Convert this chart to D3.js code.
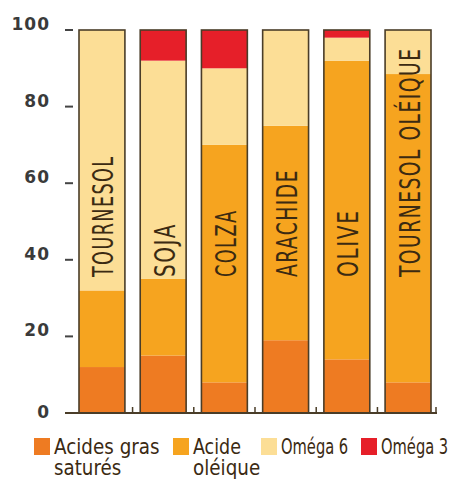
<!DOCTYPE html>
<html lang="fr">
  <head>
    <meta charset="utf-8" />
    <style>
      body {
        margin: 0;
        background: #fff;
      }
      svg {
        display: block;
      }
      .lab {
        font-family: "DejaVu Sans Condensed", "Liberation Sans Narrow", sans-serif;
        fill: #3b2a12;
      }
      .ytick {
        font-family: "DejaVu Sans", sans-serif;
        font-weight: bold;
        font-size: 17px;
        letter-spacing: 1px;
        fill: #3a3a3a;
      }
    </style>
  </head>
  <body>
    <svg id="chart" width="456" height="481"></svg>
    <script src="https://d3js.org/d3.v7.min.js"></script>
    <script>
      // huiles et composition en acides gras (%)
      const oils = ["TOURNESOL", "SOJA", "COLZA", "ARACHIDE", "OLIVE", "TOURNESOL OLÉIQUE"];
      const satures = [12, 15, 8, 19, 14, 8];
      const oleique = [20, 20, 62, 56, 78, 80.5];
      const omega6 = [68, 57, 20, 25, 6, 11.5];
      const omega3 = [0, 8, 10, 0, 2, 0];

      const yTicks = [0, 20, 40, 60, 80, 100];

      const seriesKeys = ["satures", "oleique", "omega6", "omega3"];
      const seriesColors = ["#ee7b22", "#f6a41f", "#fcde96", "#e61f29"];
      const legendLines = [
        ["Acides gras", "saturés"],
        ["Acide", "oléique"],
        ["Oméga 6"],
        ["Oméga 3"]
      ];

      const rows = oils.map((name, i) => ({
        name: name,
        satures: satures[i],
        oleique: oleique[i],
        omega6: omega6[i],
        omega3: omega3[i]
      }));

      const svg = d3.select("#chart");

      const x = d3
        .scaleBand()
        .domain(oils)
        .range([79, 431])
        .paddingInner(0.25)
        .paddingOuter(0);

      const y = d3.scaleLinear().domain([0, 100]).range([413, 30]);

      const stacked = d3.stack().keys(seriesKeys)(rows);

      // segments
      svg
        .append("g")
        .selectAll("g")
        .data(stacked)
        .join("g")
        .attr("fill", (d, i) => seriesColors[i])
        .selectAll("rect")
        .data(d => d)
        .join("rect")
        .attr("x", d => x(d.data.name))
        .attr("width", x.bandwidth())
        .attr("y", d => y(d[1]))
        .attr("height", d => y(d[0]) - y(d[1]));

      // contour des barres
      svg
        .append("g")
        .selectAll("rect")
        .data(oils)
        .join("rect")
        .attr("x", d => x(d))
        .attr("width", x.bandwidth())
        .attr("y", y(100))
        .attr("height", y(0) - y(100))
        .attr("fill", "none")
        .attr("stroke", "#4a3d28")
        .attr("stroke-width", 1.6);

      // noms des huiles, verticaux
      const charStep = 13.5;
      svg
        .append("g")
        .selectAll("text")
        .data(oils)
        .join("text")
        .attr("class", "lab")
        .attr("transform", d => {
          const cx = x(d) + x.bandwidth() / 2 + 1.5;
          return `translate(${cx + 10},${y(35.5)}) rotate(-90)`;
        })
        .attr("font-size", 28)
        .attr("letter-spacing", 2)
        .attr("textLength", d => d.length * charStep)
        .attr("lengthAdjust", "spacingAndGlyphs")
        .text(d => d);

      // axe y : tirets + valeurs
      const yAxis = svg.append("g");
      yAxis
        .selectAll("line")
        .data(yTicks.filter(t => t > 0))
        .join("line")
        .attr("x1", 65)
        .attr("x2", 73)
        .attr("y1", d => y(d))
        .attr("y2", d => y(d))
        .attr("stroke", "#444")
        .attr("stroke-width", 2);
      yAxis
        .selectAll("text")
        .data(yTicks)
        .join("text")
        .attr("class", "ytick")
        .attr("x", 50)
        .attr("y", d => y(d) - (d === 0 ? -5 : 0))
        .attr("text-anchor", "end")
        .text(d => d);

      // ligne de base avec petits repères entre les barres
      const base = svg.append("g").attr("stroke", "#4a3d28");
      base
        .append("line")
        .attr("x1", 65)
        .attr("x2", 437)
        .attr("y1", y(0))
        .attr("y2", y(0))
        .attr("stroke-width", 2);
      const gapX = oils.map((d, i) =>
        i < oils.length - 1
          ? (x(d) + x.bandwidth() + x(oils[i + 1])) / 2
          : 436
      );
      base
        .selectAll(".gap")
        .data(gapX)
        .join("line")
        .attr("class", "gap")
        .attr("x1", d => d)
        .attr("x2", d => d)
        .attr("y1", y(0))
        .attr("y2", y(0) - 6)
        .attr("stroke-width", 1.5);

      // légende
      const legendX = [34, 173, 261, 361];
      const legend = svg
        .append("g")
        .selectAll("g")
        .data(seriesKeys)
        .join("g")
        .attr("transform", (d, i) => `translate(${legendX[i]},438)`);
      legend
        .append("rect")
        .attr("width", 16)
        .attr("height", 17)
        .attr("fill", (d, i) => seriesColors[i]);
      legend
        .append("text")
        .attr("class", "lab")
        .attr("font-size", 21)
        .selectAll("tspan")
        .data((d, i) => legendLines[i])
        .join("tspan")
        .attr("x", 20)
        .attr("y", (d, j) => 16 + j * 21)
        .attr("textLength", d => d.length * 9.6)
        .attr("lengthAdjust", "spacingAndGlyphs")
        .text(d => d);
    </script>
  </body>
</html>
